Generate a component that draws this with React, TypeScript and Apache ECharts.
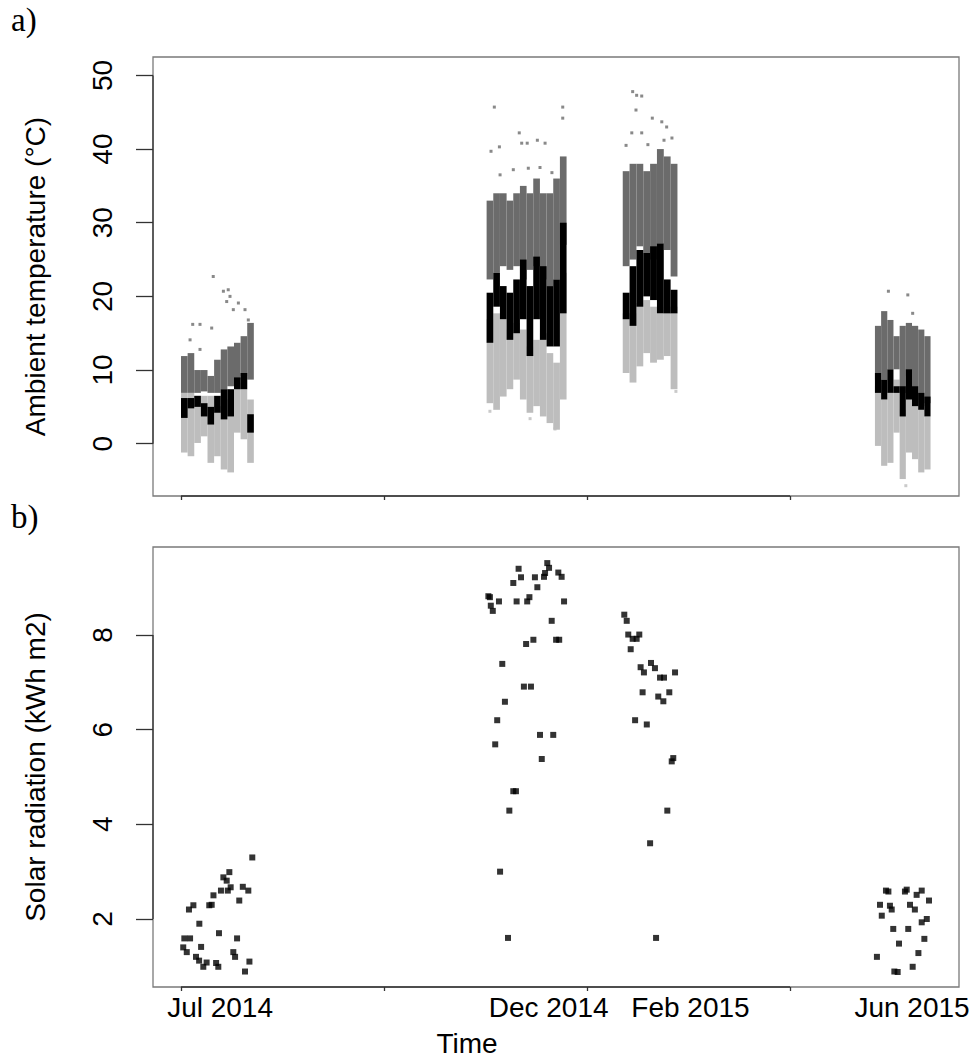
import React, { useEffect, useRef } from "react";
import * as echarts from "echarts";

// ---------- x axis (days since 1 Jul 2014) ----------
const xTicks = [0, 92, 184, 276];
const xLabelDays = [17.7, 166.6, 230.9, 331.3];
const xLabels = ["Jul 2014", "Dec 2014", "Feb 2015", "Jun 2015"];

// ---------- y ticks ----------
const tempTicks = [0, 10, 20, 30, 40, 50];
const solarTicks = [2, 4, 6, 8];

// ---------- panel a: temperature, per ~3-day bin ranges ----------
// dark grey (high), black (mid), light grey (low)
const julStart = 0;
const julBin = 3.0;
const julHighLo = [6.9, 6.9, 6.9, 7.1, 6.9, 6.9, 7.4, 7.8, 8.7, 9.2, 8.7];
const julHighHi = [11.9, 12.3, 10.0, 10.0, 9.2, 11.4, 12.8, 13.2, 13.7, 14.6, 16.4];
const julMidLo = [3.5, 4.8, 5.0, 3.7, 2.6, 4.2, 3.3, 3.7, 7.4, 7.4, 1.5];
const julMidHi = [6.2, 6.2, 6.5, 5.5, 5.0, 6.5, 7.4, 7.4, 9.0, 9.6, 4.0];
const julLowLo = [-1.2, -1.7, 0.1, 1.0, -2.6, -1.7, -3.5, -3.9, 1.5, 0.6, -2.6];
const julLowHi = [6.9, 6.9, 6.5, 6.5, 6.5, 5.1, 3.7, 6.0, 8.3, 8.7, 6.0];

const decStart = 138.5;
const decBin = 3.02;
const decHighLo = [22.3, 23.2, 24.1, 23.6, 24.1, 22.3, 23.6, 24.1, 22.3, 21.4, 22.3, 27.0];
const decHighHi = [33, 34, 34, 33, 34, 35, 34, 36, 34, 34, 36, 39];
const decMidLo = [13.7, 18.6, 16.9, 14.1, 15.0, 16.9, 11.9, 16.9, 14.1, 13.2, 13.2, 17.7];
const decMidHi = [20.5, 23.2, 21.4, 20.5, 22.3, 25.0, 21.4, 25.4, 24.1, 21.4, 22.3, 30.0];
const decLowLo = [5.5, 4.6, 6.4, 7.4, 8.7, 6.0, 4.2, 5.1, 3.7, 2.8, 1.9, 6.0];
const decLowHi = [16.9, 17.7, 16.9, 15.5, 16.4, 15.5, 13.2, 14.1, 15.0, 12.3, 11.0, 23.2];

const febStart = 200.2;
const febBin = 3.1;
const febHighLo = [24.1, 25.0, 26.8, 25.9, 25.0, 27.2, 26.3, 22.7];
const febHighHi = [37, 38, 38, 37, 38, 40, 39, 38];
const febMidLo = [16.9, 16.0, 18.6, 20.0, 19.5, 17.7, 17.7, 17.7];
const febMidHi = [20.5, 24.1, 26.3, 25.9, 26.8, 27.2, 22.3, 20.9];
const febLowLo = [9.6, 8.3, 10.5, 12.3, 11.0, 11.4, 11.9, 7.4];
const febLowHi = [17.7, 17.7, 19.1, 19.5, 18.6, 17.7, 18.6, 18.6];

const junStart = 314.5;
const junBin = 2.8;
const junHighLo = [8.7, 8.7, 10.1, 10.1, 6.9, 9.2, 6.0, 5.1, 5.5];
const junHighHi = [16.0, 18.0, 16.8, 14.6, 16.0, 16.4, 16.0, 15.5, 14.6];
const junMidLo = [6.9, 6.0, 6.9, 6.9, 3.7, 6.0, 5.1, 4.6, 3.7];
const junMidHi = [9.6, 8.7, 10.1, 7.8, 7.8, 10.1, 7.8, 6.9, 6.4];
const junLowLo = [-0.3, -3.0, -2.6, 1.5, -4.8, -1.2, -2.1, -3.9, -3.5];
const junLowHi = [7.8, 6.0, 6.9, 8.7, 4.6, 7.0, 5.5, 4.6, 3.7];

// sparse isolated readings
const highOutDay = [14.6, 19.2, 21.4, 22.2, 20.7, 26.0, 23.7, 29.0, 30.5, 5.3, 8.6, 13.9, 4.1, 8.6,
  142.0, 140.5, 144.3, 153.3, 154.4, 156.9, 161.5, 173.0, 173.0, 165.0, 150.6, 157.4, 144.6, 162.7, 168.1,
  204.7, 206.5, 208.8, 206.2, 213.6, 217.9, 204.3, 208.8, 220.1, 218.9, 201.7, 211.6, 222.5,
  320.6, 329.4, 331.6];
const highOutVal = [22.7, 20.7, 20.9, 20.0, 19.3, 19.1, 18.2, 18.2, 16.8, 16.2, 16.2, 15.7, 14.1, 12.8,
  45.7, 39.7, 40.3, 42.2, 40.8, 40.8, 41.2, 45.7, 44.2, 40.8, 37.2, 37.4, 36.5, 37.5, 36.8,
  47.8, 47.3, 47.2, 45.3, 44.2, 43.7, 42.2, 42.2, 43.0, 41.2, 40.5, 40.6, 41.5,
  20.7, 20.2, 17.7];
const lowOutDay = [140.0, 169.5, 158.2, 224.3, 328.5];
const lowOutVal = [4.4, 2.0, 3.4, 7.1, -5.7];

// ---------- panel b: daily solar radiation ----------
const solarJulDay = [1.0, 2.6, 1.5, 4.1, 3.6, 5.6, 8.3, 9.1, 6.8, 8.2, 10.1, 11.6, 12.8, 13.9, 14.7, 15.9, 16.9,
  17.2, 18.1, 19.2, 20.7, 21.9, 21.2, 22.5, 23.7, 24.5, 25.4, 26.4, 28.0, 29.0, 30.5, 31.0, 32.3];
const solarJulVal = [1.40, 1.30, 1.59, 1.59, 2.20, 2.29, 1.90, 1.41, 1.20, 1.12, 0.99, 1.08, 2.29, 2.30, 2.50, 1.07, 0.99,
  1.70, 2.60, 2.88, 2.81, 2.99, 2.60, 2.67, 1.30, 1.20, 1.59, 2.39, 2.68, 0.89, 2.60, 1.10, 3.30];
const solarDecDay = [153.0, 150.6, 154.1, 160.4, 161.5, 166.0, 166.8, 165.0, 164.5, 171.0, 172.5, 139.3, 140.0,
  140.4, 141.3, 144.1, 152.1, 156.9, 157.9, 173.6, 168.0, 156.4, 159.7, 170.0, 171.4, 145.6, 155.4, 158.6,
  146.8, 143.3, 162.7, 168.7, 142.4, 163.5, 150.6, 151.8, 148.8, 144.6, 148.2];
const solarDecVal = [9.40, 9.10, 9.22, 9.22, 9.01, 9.52, 9.42, 9.31, 9.23, 9.32, 9.23, 8.82, 8.80,
  8.62, 8.51, 8.71, 8.71, 8.71, 8.80, 8.71, 8.30, 7.81, 7.90, 7.90, 7.90, 7.39, 6.91, 6.91,
  6.59, 6.20, 5.89, 5.89, 5.69, 5.38, 4.70, 4.70, 4.29, 3.00, 1.60];
const solarFebDay = [200.9, 202.0, 202.7, 204.7, 206.5, 207.7, 203.8, 208.3, 209.8, 213.0, 214.8, 217.1, 218.9,
  223.9, 209.2, 216.3, 218.6, 221.3, 205.8, 211.1, 222.4, 223.1, 220.4, 212.6, 215.3];
const solarFebVal = [8.43, 8.30, 8.01, 7.92, 7.92, 8.01, 7.70, 7.32, 7.21, 7.41, 7.30, 7.10, 7.10,
  7.21, 6.79, 6.70, 6.60, 6.79, 6.20, 6.11, 5.33, 5.40, 4.29, 3.60, 1.60];
const solarJunDay = [319.5, 320.6, 328.1, 328.9, 333.4, 335.7, 339.0, 316.8, 317.6, 321.3, 322.1, 330.4, 332.6,
  335.7, 338.0, 322.8, 329.6, 336.9, 325.4, 334.2, 315.4, 323.3, 324.8, 331.6];
const solarJunVal = [2.60, 2.58, 2.58, 2.62, 2.51, 2.60, 2.39, 2.30, 2.07, 2.28, 2.20, 2.30, 2.20,
  1.93, 2.00, 1.79, 1.79, 1.58, 1.48, 1.28, 1.20, 0.89, 0.88, 0.99];

// ---------- styling / layout ----------
const GA = { left: 153, top: 57, width: 806, height: 439 };
const GB = { left: 153, top: 547, width: 806, height: 440 };
const X_MIN = -12.7;
const X_MAX = 352.6;
const FONT = "'Liberation Sans', Arial, Helvetica, sans-serif";
const SERIF = "'Liberation Serif', 'Times New Roman', serif";
const C_HIGH = "#6b6b6b";
const C_MID = "#000000";
const C_LOW = "#bdbdbd";

type Cluster = { start: number; bin: number; lo: number[]; hi: number[] };

function ranges(clusters: Cluster[]) {
  const out: number[][] = [];
  clusters.forEach((c) => {
    c.lo.forEach((l, i) => {
      out.push([c.start + i * c.bin, l, c.hi[i], c.bin]);
    });
  });
  return out;
}

function zip(a: number[], b: number[]) {
  return a.map((v, i) => [v, b[i]]);
}

function rangeSeries(name: string, data: number[][], color: string) {
  return {
    name,
    type: "custom",
    xAxisIndex: 0,
    yAxisIndex: 0,
    encode: { x: 0, y: [1, 2] },
    data,
    renderItem: (params: any, api: any) => {
      const x = api.value(0);
      const lo = api.value(1);
      const hi = api.value(2);
      const w = api.value(3);
      const a = api.coord([x, hi]);
      const b = api.coord([x + w, lo]);
      return {
        type: "rect",
        shape: { x: a[0], y: a[1], width: b[0] - a[0], height: b[1] - a[1] },
        style: { fill: color },
      };
    },
  };
}

function xAxisCfg(gridIndex: number, showLabels: boolean) {
  return {
    type: "value",
    gridIndex,
    min: X_MIN,
    max: X_MAX,
    axisLine: { show: false, onZero: false },
    splitLine: { show: false },
    axisTick: {
      show: true,
      customValues: xTicks,
      length: 4,
      lineStyle: { color: "#333", width: 1.3 },
    },
    axisLabel: {
      show: showLabels,
      customValues: xLabelDays,
      margin: 6,
      fontSize: 28,
      color: "#000",
      fontFamily: FONT,
      formatter: (v: number) => {
        let best = 0;
        xLabelDays.forEach((d, i) => {
          if (Math.abs(d - v) < Math.abs(xLabelDays[best] - v)) best = i;
        });
        return xLabels[best];
      },
    },
  };
}

function yAxisCfg(gridIndex: number, min: number, max: number, ticks: number[], name: string) {
  return {
    type: "value",
    gridIndex,
    min,
    max,
    name,
    nameLocation: "middle",
    nameRotate: 90,
    nameGap: 104,
    nameTextStyle: { fontSize: 28, color: "#000", fontFamily: FONT },
    axisLine: { show: false, onZero: false },
    splitLine: { show: false },
    axisTick: {
      show: true,
      customValues: ticks,
      length: 17,
      lineStyle: { color: "#333", width: 1.3 },
    },
    axisLabel: {
      customValues: ticks,
      rotate: 90,
      margin: 37,
      fontSize: 28,
      color: "#000",
      fontFamily: FONT,
    },
  };
}

export default function App() {
  const ref = useRef<HTMLDivElement | null>(null);

  useEffect(() => {
    if (!ref.current) return;
    const chart = echarts.init(ref.current, undefined, { renderer: "svg" });

    const highData = ranges([
      { start: julStart, bin: julBin, lo: julHighLo, hi: julHighHi },
      { start: decStart, bin: decBin, lo: decHighLo, hi: decHighHi },
      { start: febStart, bin: febBin, lo: febHighLo, hi: febHighHi },
      { start: junStart, bin: junBin, lo: junHighLo, hi: junHighHi },
    ]);
    const midData = ranges([
      { start: julStart, bin: julBin, lo: julMidLo, hi: julMidHi },
      { start: decStart, bin: decBin, lo: decMidLo, hi: decMidHi },
      { start: febStart, bin: febBin, lo: febMidLo, hi: febMidHi },
      { start: junStart, bin: junBin, lo: junMidLo, hi: junMidHi },
    ]);
    const lowData = ranges([
      { start: julStart, bin: julBin, lo: julLowLo, hi: julLowHi },
      { start: decStart, bin: decBin, lo: decLowLo, hi: decLowHi },
      { start: febStart, bin: febBin, lo: febLowLo, hi: febLowHi },
      { start: junStart, bin: junBin, lo: junLowLo, hi: junLowHi },
    ]);

    const solarData = [
      ...zip(solarJulDay, solarJulVal),
      ...zip(solarDecDay, solarDecVal),
      ...zip(solarFebDay, solarFebVal),
      ...zip(solarJunDay, solarJunVal),
    ];

    chart.setOption({
      animation: false,
      backgroundColor: "#ffffff",
      textStyle: { fontFamily: FONT },
      grid: [
        { ...GA, show: true, borderColor: "#7a7a7a", borderWidth: 1.3, containLabel: false },
        { ...GB, show: true, borderColor: "#7a7a7a", borderWidth: 1.3, containLabel: false },
      ],
      xAxis: [xAxisCfg(0, false), xAxisCfg(1, true)],
      yAxis: [
        yAxisCfg(0, -7.1, 52.5, tempTicks, "Ambient temperature (°C)"),
        yAxisCfg(1, 0.563, 9.86, solarTicks, "Solar radiation (kWh m2)"),
      ],
      series: [
        rangeSeries("Low", lowData, C_LOW),
        {
          name: "Low isolated",
          type: "scatter",
          xAxisIndex: 0,
          yAxisIndex: 0,
          symbol: "rect",
          symbolSize: 3,
          itemStyle: { color: C_LOW },
          data: zip(lowOutDay, lowOutVal),
        },
        rangeSeries("High", highData, C_HIGH),
        {
          name: "High isolated",
          type: "scatter",
          xAxisIndex: 0,
          yAxisIndex: 0,
          symbol: "rect",
          symbolSize: 3,
          itemStyle: { color: C_HIGH },
          data: zip(highOutDay, highOutVal),
        },
        rangeSeries("Mid", midData, C_MID),
        {
          name: "Solar radiation",
          type: "scatter",
          xAxisIndex: 1,
          yAxisIndex: 1,
          symbol: "rect",
          symbolSize: 6,
          itemStyle: { color: "#000" },
          data: solarData,
        },
      ],
    });

    // darker axis segments spanning first..last tick (R style), plus texts
    const xa0 = chart.convertToPixel({ xAxisIndex: 0 }, xTicks[0]) as number;
    const xa1 = chart.convertToPixel({ xAxisIndex: 0 }, xTicks[xTicks.length - 1]) as number;
    const ya0 = chart.convertToPixel({ yAxisIndex: 0 }, tempTicks[0]) as number;
    const ya1 = chart.convertToPixel({ yAxisIndex: 0 }, tempTicks[tempTicks.length - 1]) as number;
    const yb0 = chart.convertToPixel({ yAxisIndex: 1 }, solarTicks[0]) as number;
    const yb1 = chart.convertToPixel({ yAxisIndex: 1 }, solarTicks[solarTicks.length - 1]) as number;
    const axisStyle = { stroke: "#333", lineWidth: 1.3 };
    const aBottom = GA.top + GA.height;
    const bBottom = GB.top + GB.height;

    chart.setOption({
      graphic: {
        elements: [
          { type: "line", shape: { x1: GA.left, y1: ya0, x2: GA.left, y2: ya1 }, style: axisStyle, z: 10 },
          { type: "line", shape: { x1: GB.left, y1: yb0, x2: GB.left, y2: yb1 }, style: axisStyle, z: 10 },
          { type: "line", shape: { x1: xa0, y1: aBottom, x2: xa1, y2: aBottom }, style: axisStyle, z: 10 },
          { type: "line", shape: { x1: xa0, y1: bBottom, x2: xa1, y2: bBottom }, style: axisStyle, z: 10 },
          {
            type: "text",
            left: 11,
            top: 3,
            style: { text: "a)", fontSize: 33, fontFamily: SERIF, fill: "#000" },
          },
          {
            type: "text",
            left: 11,
            top: 500,
            style: { text: "b)", fontSize: 33, fontFamily: SERIF, fill: "#000" },
          },
          {
            type: "text",
            x: 467,
            y: 1043,
            style: {
              text: "Time",
              fontSize: 28,
              fontFamily: FONT,
              fill: "#000",
              textAlign: "center",
              textVerticalAlign: "middle",
            },
          },
        ],
      },
    });

    return () => {
      chart.dispose();
    };
  }, []);

  return (
    <div
      ref={ref}
      style={{ position: "absolute", left: 0, top: 0, width: 977, height: 1059, background: "#fff" }}
    />
  );
}
